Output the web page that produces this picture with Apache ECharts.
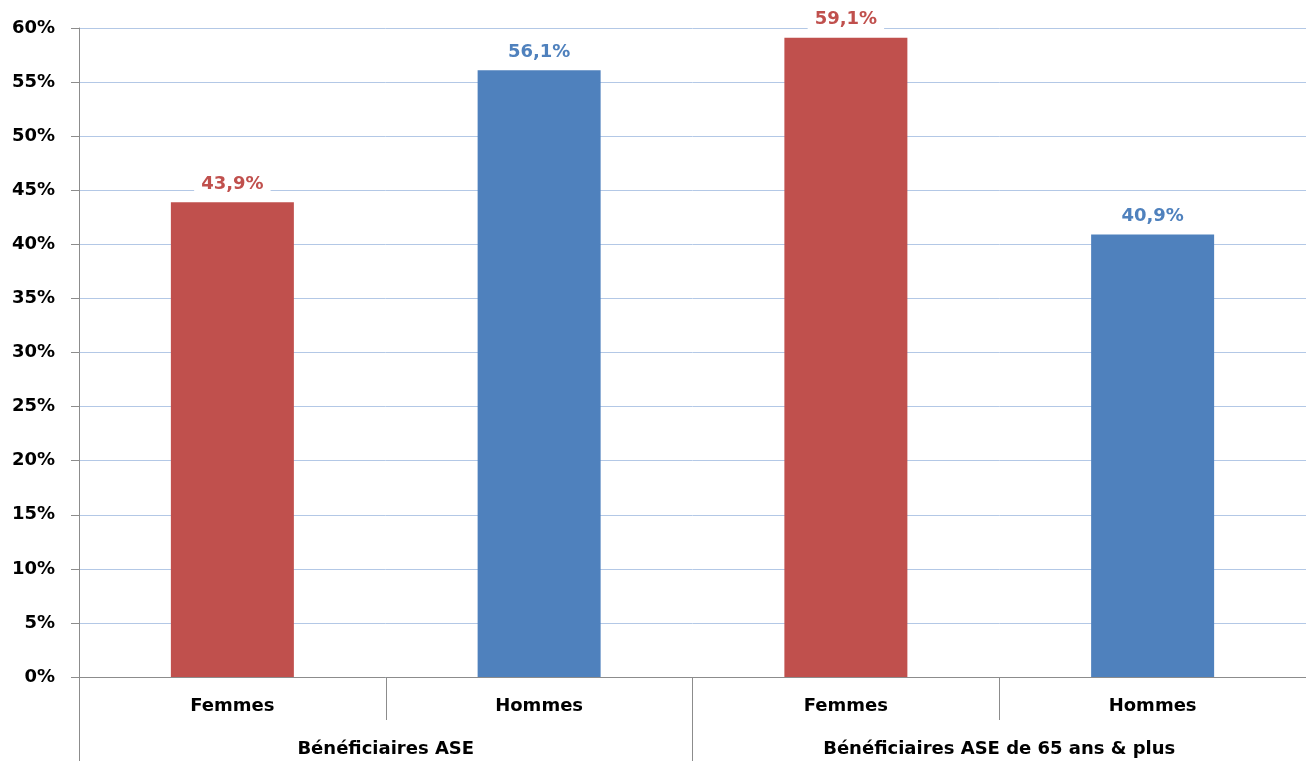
<!DOCTYPE html>
<html><head><meta charset="utf-8">
<script src="https://cdn.jsdelivr.net/npm/echarts@6/dist/echarts.min.js"></script>
<style>html,body{margin:0;padding:0;background:#fff}#c{width:1306px;height:761px}</style>
</head><body><div id="c"></div>
<script>
const categories = ['Femmes', 'Hommes', 'Femmes', 'Hommes'];
const groups = ['Bénéficiaires ASE', 'Bénéficiaires ASE de 65 ans & plus'];
const values = [43.9, 56.1, 59.1, 40.9];
const sexColors = {Femmes: '#C0504D', Hommes: '#4F81BD'};
const FONT = '"DejaVu Sans", sans-serif';

const chart = echarts.init(document.getElementById('c'));
chart.setOption({
  animation: false,
  grid: {left: 79, right: 0, top: 28, bottom: 84},
  xAxis: [{
    type: 'category', data: categories, position: 'bottom',
    axisLine: {lineStyle: {color: '#8c8c8c', width: 1}},
    axisTick: {show: true, length: 43, inside: false, lineStyle: {color: '#8c8c8c'}},
    axisLabel: {margin: 20, color: '#000', fontFamily: FONT, fontWeight: 'bold', fontSize: 18}
  }, {
    type: 'category', data: groups, position: 'bottom',
    axisLine: {show: false},
    axisTick: {show: true, length: 84, lineStyle: {color: '#8c8c8c'}},
    axisLabel: {margin: 63, color: '#000', fontFamily: FONT, fontWeight: 'bold', fontSize: 18}
  }],
  yAxis: {
    type: 'value', min: 0, max: 60, interval: 5,
    axisLine: {show: true, lineStyle: {color: '#8c8c8c'}},
    axisTick: {show: true, length: 8, lineStyle: {color: '#8c8c8c'}},
    splitLine: {lineStyle: {color: '#B3C8E6', width: 1}},
    axisLabel: {formatter: '{value}%', margin: 24, color: '#000', fontFamily: FONT, fontWeight: 'bold', fontSize: 18}
  },
  series: [{
    type: 'bar', xAxisIndex: 0, barWidth: 123,
    data: values.map((v, i) => ({
      value: v,
      itemStyle: {color: sexColors[categories[i]]},
      label: {color: sexColors[categories[i]]}
    })),
    label: {
      show: true, position: 'top', distance: 8,
      formatter: p => p.value.toFixed(1).replace('.', ',') + '%',
      fontFamily: FONT, fontWeight: 'bold', fontSize: 18,
      backgroundColor: '#fff', padding: [2, 7, 1, 7]
    }
  }]
});
</script></body></html>
